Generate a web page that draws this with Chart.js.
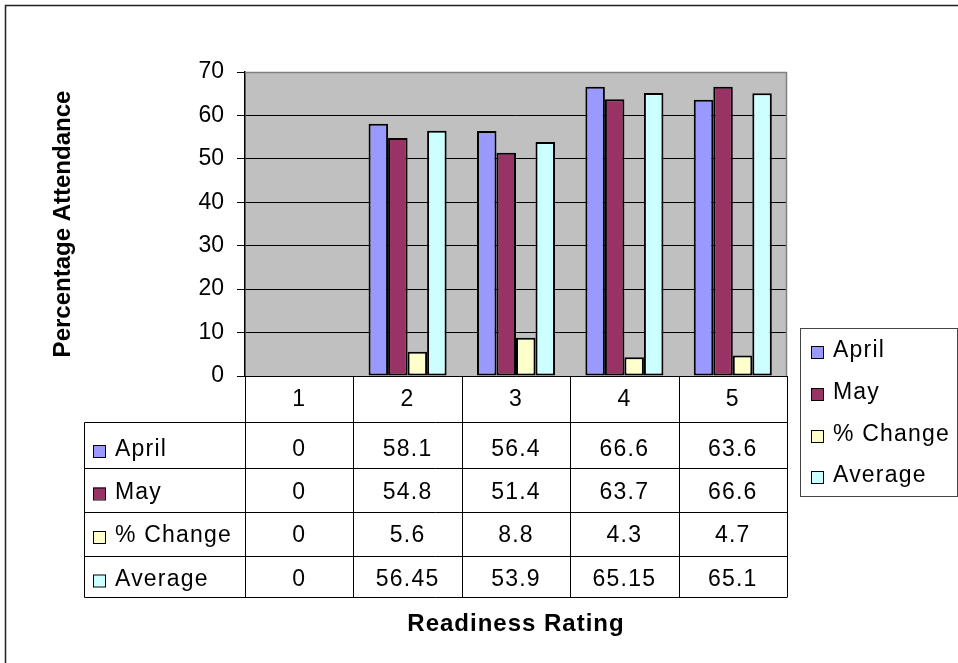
<!DOCTYPE html>
<html>
<head>
<meta charset="utf-8">
<script src="https://cdn.jsdelivr.net/npm/chart.js@4.4.1/dist/chart.umd.min.js"></script>
<style>
  html, body { margin: 0; padding: 0; background: #fff; }
  #wrap { width: 958px; height: 663px; }
</style>
</head>
<body>
<div id="wrap"><canvas id="c" width="958" height="663"></canvas></div>
<script>
// Readiness ratings and monthly attendance figures
const ratings = ['1', '2', '3', '4', '5'];
const april = [0, 58.1, 56.4, 66.6, 63.6];
const may = [0, 54.8, 51.4, 63.7, 66.6];
const pctChange = [0, 5.6, 8.8, 4.3, 4.7];
const average = [0, 56.45, 53.9, 65.15, 65.1];
const seriesNames = ['April', 'May', '% Change', 'Average'];
const seriesColors = ['#9999FF', '#993366', '#FFFFCC', '#CCFFFF'];
const yTitle = 'Percentage Attendance';
const xTitle = 'Readiness Rating';
const yMax = 70;
const yStep = 10;

const FONT = '"Liberation Sans", Arial, sans-serif';
const seriesValues = [april, may, pctChange, average];

// Table row layout (below the category axis)
const TABLE_LEFT = 84.5;
const ROW_LINES = [422.5, 468.5, 512.5, 556.5, 597.5];
const HEADER_BASE = 406;
const ROW_BASES = [456, 498.5, 542, 585.5];

// Legend box layout
const LEG = { left: 800.5, top: 328.5, right: 957.5, bottom: 496.5, swX: 811, textX: 833, bases: [357, 399, 441, 482] };

function swatch(ctx, x, baseline, color) {
  ctx.fillStyle = color;
  ctx.fillRect(x, baseline - 12, 13, 12);
  ctx.strokeStyle = '#000';
  ctx.lineWidth = 1;
  ctx.strokeRect(x + 0.5, baseline - 11.5, 12, 12);
}

const sheetPlugin = {
  id: 'sheet',
  beforeDraw(chart) {
    const { ctx, chartArea: a } = chart;
    ctx.save();
    ctx.fillStyle = '#fff';
    ctx.fillRect(0, 0, chart.width, chart.height);
    // outer chart frame
    ctx.strokeStyle = '#222';
    ctx.lineWidth = 1.5;
    ctx.strokeRect(5.5, 5.5, chart.width + 20, chart.height + 20);
    // plot area background
    ctx.fillStyle = '#C0C0C0';
    ctx.fillRect(a.left, a.top, a.right - a.left, a.bottom - a.top);
    ctx.restore();
  },
  afterDraw(chart) {
    const { ctx, chartArea: a, scales } = chart;
    const xs = scales.x;
    const colW = (a.right - a.left) / ratings.length;
    ctx.save();

    // plot area border (top / right)
    ctx.strokeStyle = '#808080';
    ctx.lineWidth = 1.5;
    ctx.beginPath();
    ctx.moveTo(a.left, a.top + 0.5);
    ctx.lineTo(a.right - 0.5, a.top + 0.5);
    ctx.lineTo(a.right - 0.5, a.bottom);
    ctx.stroke();

    // data table grid
    const tableBottom = ROW_LINES[ROW_LINES.length - 1];
    ctx.strokeStyle = '#000';
    ctx.lineWidth = 1;
    ctx.beginPath();
    for (let i = 0; i <= ratings.length; i++) {
      const x = Math.round(a.left + i * colW) + 0.5;
      ctx.moveTo(x, a.bottom);
      ctx.lineTo(x, tableBottom);
    }
    ROW_LINES.forEach(y => {
      ctx.moveTo(TABLE_LEFT, y);
      ctx.lineTo(a.right, y);
    });
    ctx.moveTo(TABLE_LEFT, ROW_LINES[0]);
    ctx.lineTo(TABLE_LEFT, tableBottom);
    ctx.stroke();

    // table text
    ctx.fillStyle = '#000';
    ctx.font = '23px ' + FONT;
    ctx.letterSpacing = '1.2px';
    ctx.textBaseline = 'alphabetic';
    ctx.textAlign = 'center';
    ratings.forEach((r, i) => {
      ctx.fillText(r, xs.getPixelForValue(i), HEADER_BASE);
    });
    seriesValues.forEach((vals, s) => {
      vals.forEach((v, i) => {
        ctx.fillText(String(v), xs.getPixelForValue(i), ROW_BASES[s]);
      });
    });
    ctx.textAlign = 'left';
    seriesNames.forEach((name, s) => {
      swatch(ctx, 93, ROW_BASES[s] + 1, seriesColors[s]);
      ctx.fillStyle = '#000';
      ctx.fillText(name, 115, ROW_BASES[s]);
    });

    // legend
    ctx.strokeStyle = '#444';
    ctx.lineWidth = 1;
    ctx.strokeRect(LEG.left, LEG.top, LEG.right - LEG.left, LEG.bottom - LEG.top);
    seriesNames.forEach((name, s) => {
      swatch(ctx, LEG.swX, LEG.bases[s] + 1, seriesColors[s]);
      ctx.fillStyle = '#000';
      ctx.fillText(name, LEG.textX, LEG.bases[s]);
    });

    // category axis title
    ctx.font = 'bold 24px ' + FONT;
    ctx.letterSpacing = '1px';
    ctx.textAlign = 'center';
    ctx.fillText(xTitle, (a.left + a.right) / 2, 631);
    ctx.restore();
  }
};

new Chart(document.getElementById('c'), {
  type: 'bar',
  data: {
    labels: ratings,
    datasets: seriesValues.map((vals, i) => ({
      label: seriesNames[i],
      data: vals,
      backgroundColor: seriesColors[i],
      borderColor: '#000',
      borderWidth: 2,
      borderSkipped: false,
      categoryPercentage: 0.72,
      barPercentage: 1.0
    }))
  },
  options: {
    responsive: false,
    animation: false,
    events: [],
    layout: { padding: { left: 0, right: 171, top: 72, bottom: 287 } },
    plugins: { legend: { display: false }, tooltip: { enabled: false }, title: { display: false } },
    scales: {
      x: { display: false },
      y: {
        min: 0,
        max: yMax,
        afterFit(scale) { scale.width = 245; },
        ticks: {
          stepSize: yStep,
          color: '#000',
          padding: 13,
          font: { family: FONT, size: 23 }
        },
        grid: { color: '#000', lineWidth: 1, tickLength: 8, tickColor: '#000' },
        border: { display: true, color: '#000', width: 1.5 },
        title: {
          display: true,
          text: yTitle,
          color: '#000',
          font: { family: FONT, size: 24, weight: 'bold' },
          padding: { top: 49, bottom: 0 }
        }
      }
    }
  },
  plugins: [sheetPlugin]
});
</script>
</body>
</html>
